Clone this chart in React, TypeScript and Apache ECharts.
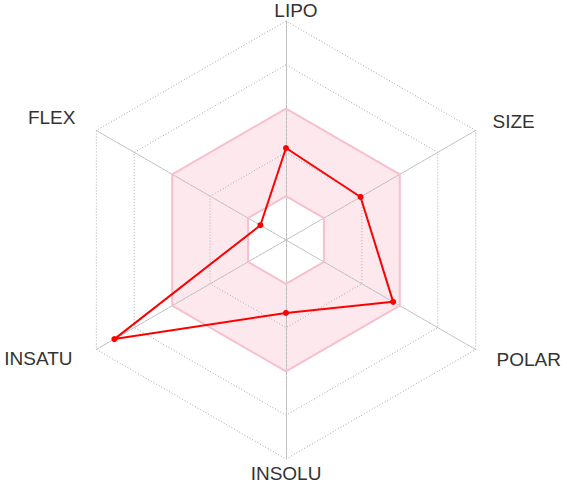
import React, { useEffect, useRef } from "react";
import * as echarts from "echarts";

const axes = ["LIPO", "FLEX", "INSATU", "INSOLU", "POLAR", "SIZE"];
const values = [0.42, 0.135, 0.905, 0.333, 0.565, 0.393];
const bandOuter = [0.6, 0.6, 0.6, 0.6, 0.6, 0.6];
const bandInner = [0.2, 0.2, 0.2, 0.2, 0.2, 0.2];

const labelStyleKey: Record<string, string> = {
  LIPO: "top",
  FLEX: "fl",
  INSATU: "ins",
  INSOLU: "bot",
  POLAR: "pol",
  SIZE: "siz",
};

export default function App() {
  const ref = useRef<HTMLDivElement>(null);
  useEffect(() => {
    if (!ref.current) return;
    const chart = echarts.init(ref.current, undefined, { renderer: "svg" });
    const base = { fontSize: 19, color: "#333", fontFamily: "Liberation Sans, Arial, sans-serif", lineHeight: 19 };
    chart.setOption({
      animation: false,
      backgroundColor: "#fff",
      radar: {
        center: [286, 240],
        radius: 219,
        startAngle: 90,
        splitNumber: 5,
        shape: "polygon",
        nameGap: 1,
        indicator: axes.map((n) => ({ name: n, min: 0, max: 1 })),
        axisName: {
          ...base,
          formatter: (name: string) => `{${labelStyleKey[name]}|${name}}`,
          rich: {
            top: { ...base, padding: [0, 0, 0, 20] },
            bot: { ...base, padding: [8, 0, 0, 0] },
            siz: { ...base, padding: [0, 0, 18, 16] },
            pol: { ...base, padding: [19, 0, 0, 20] },
            ins: { ...base, padding: [17, 23, 0, 0] },
            fl: { ...base, padding: [0, 20, 26, 0] },
          },
        },
        axisLine: { lineStyle: { color: "#bdbdbd", width: 1, type: [3, 1] } },
        axisTick: { show: false },
        axisLabel: { show: false },
        splitLine: { lineStyle: { color: "#a8a8a8", type: [1, 2], width: 1 } },
        splitArea: {
          show: true,
          areaStyle: { color: ["#ffffff", "#fde8ee", "#fde8ee", "#ffffff", "#ffffff"] },
        },
      },
      series: [
        {
          type: "radar",
          symbol: "none",
          silent: true,
          lineStyle: { color: "#f6c0cd", width: 2 },
          data: [{ value: bandOuter }, { value: bandInner }],
        },
        {
          type: "radar",
          symbol: "circle",
          symbolSize: 6,
          itemStyle: { color: "#ff0000" },
          lineStyle: { color: "#ff0000", width: 2 },
          data: [{ value: values, name: "Bioavailability" }],
        },
      ],
    });
    return () => chart.dispose();
  }, []);
  return (
    <div
      ref={ref}
      style={{ position: "fixed", left: 0, top: 0, width: 567, height: 487 }}
    />
  );
}
